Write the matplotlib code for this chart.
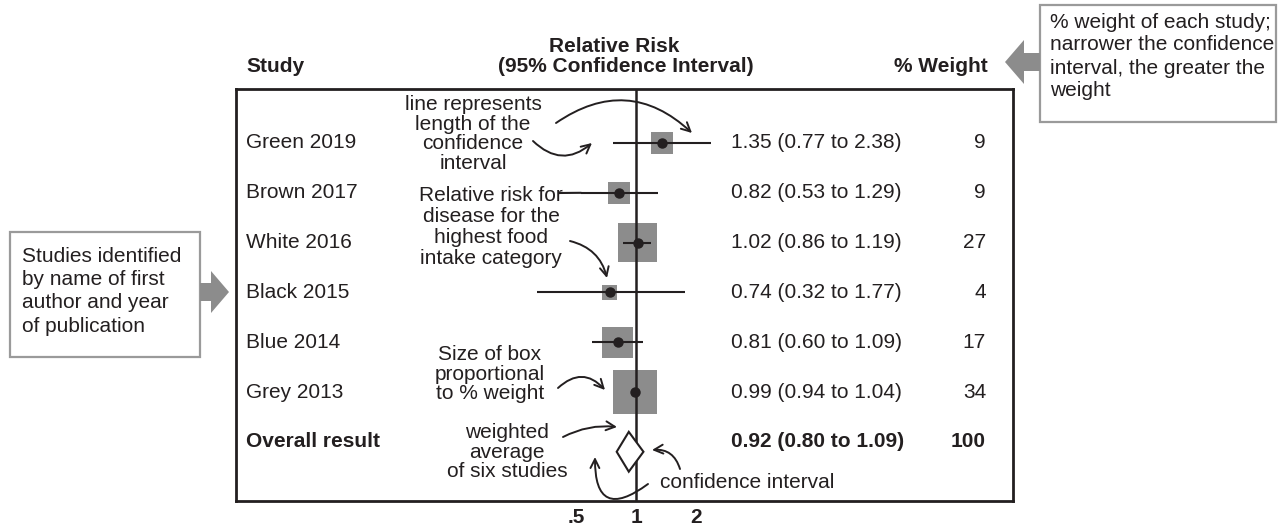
import numpy as np
import matplotlib.pyplot as plt
import matplotlib.transforms as mtransforms
from matplotlib.patches import Polygon, Rectangle
from matplotlib.ticker import NullLocator

plt.rcParams['font.family'] = ['Liberation Sans', 'DejaVu Sans']

# forest plot data
studies = ['Green 2019', 'Brown 2017', 'White 2016', 'Black 2015', 'Blue 2014', 'Grey 2013']
rr = [1.35, 0.82, 1.02, 0.74, 0.81, 0.99]
ci_low = [0.77, 0.53, 0.86, 0.32, 0.60, 0.94]
ci_high = [2.38, 1.29, 1.19, 1.77, 1.09, 1.04]
weights = [9, 9, 27, 4, 17, 34]
overall_label = 'Overall result'
overall_rr, overall_low, overall_high = 0.92, 0.80, 1.09
overall_weight = 100
tick_values = [0.5, 1, 2]
tick_labels = ['.5', '1', '2']

ink = '#231f20'
box_gray = '#8c8c8c'
frame_gray = '#9a9a9a'
FS = 15

W, H = 1278, 525
fig = plt.figure(figsize=(W / 100, H / 100), dpi=100)


def P(x, y):
    # image pixel -> figure fraction
    return (x / W, 1 - y / H)


ax_l, ax_r, ax_t, ax_b = 236, 1013, 89, 501
ax = fig.add_axes([ax_l / W, 1 - ax_b / H, (ax_r - ax_l) / W, (ax_b - ax_t) / H])

# log2 scale, 1 at x=636, ~60 px per doubling
ax.set_xscale('log', base=2)
ax.set_xlim(2 ** ((ax_l - 636) / 60), 2 ** ((ax_r - 636) / 60))
row_px = 49.8
ax.set_ylim((ax_b - 143) / row_px, (ax_t - 143) / row_px)

rows = np.arange(len(studies))
ax.axvline(1, color=ink, lw=1.8, zorder=2)
ax.scatter(rr, rows, s=np.array(weights) * 29, marker='s', color=box_gray, lw=0, zorder=1)
ax.hlines(rows, ci_low, ci_high, color=ink, lw=1.5, zorder=3)
ax.plot(rr, rows, 'o', ms=6.5, color=ink, zorder=4)

yo = len(studies) + 0.2
diamond = Polygon([(overall_low, yo), (overall_rr, yo - 0.4), (overall_high, yo), (overall_rr, yo + 0.4)],
                  closed=True, facecolor='white', edgecolor=ink, lw=1.5, zorder=5)
ax.add_patch(diamond)

for s in ax.spines.values():
    s.set_linewidth(2)
    s.set_color(ink)
ax.set_xticks(tick_values)
ax.set_xticklabels(tick_labels, fontsize=FS, fontweight='bold', color=ink)
ax.xaxis.set_minor_locator(NullLocator())
ax.tick_params(axis='x', length=0, pad=5)
ax.set_yticks([])

# text columns
trans = mtransforms.blended_transform_factory(fig.transFigure, ax.transData)
for i, name in enumerate(studies):
    ax.text(246 / W, i, name, transform=trans, ha='left', va='center', fontsize=FS, color=ink)
    ax.text(731 / W, i, f'{rr[i]:.2f} ({ci_low[i]:.2f} to {ci_high[i]:.2f})', transform=trans,
            ha='left', va='center', fontsize=FS, color=ink)
    ax.text(986 / W, i, str(weights[i]), transform=trans, ha='right', va='center', fontsize=FS, color=ink)
io = len(studies)
ax.text(246 / W, io, overall_label, transform=trans, ha='left', va='center', fontsize=FS,
        fontweight='bold', color=ink)
ax.text(731 / W, io, f'{overall_rr:.2f} ({overall_low:.2f} to {overall_high:.2f})', transform=trans,
        ha='left', va='center', fontsize=FS, fontweight='bold', color=ink)
ax.text(986 / W, io, str(overall_weight), transform=trans, ha='right', va='center', fontsize=FS,
        fontweight='bold', color=ink)

# headers
fig.text(*P(614, 47), 'Relative Risk', ha='center', va='center', fontsize=FS, fontweight='bold', color=ink)
fig.text(*P(626, 67), '(95% Confidence Interval)', ha='center', va='center', fontsize=FS,
         fontweight='bold', color=ink)
fig.text(*P(246, 67), 'Study', ha='left', va='center', fontsize=FS, fontweight='bold', color=ink)
fig.text(*P(988, 67), '% Weight', ha='right', va='center', fontsize=FS, fontweight='bold', color=ink)


# side boxes with block arrows
def frame_box(x0, y0, x1, y1):
    fig.add_artist(Rectangle(P(x0, y1), (x1 - x0) / W, (y1 - y0) / H, transform=fig.transFigure,
                             facecolor='white', edgecolor=frame_gray, lw=1.6))


def block_arrow(pts):
    fig.add_artist(Polygon([P(x, y) for x, y in pts], closed=True, transform=fig.transFigure,
                           facecolor=box_gray, edgecolor='none'))


frame_box(10, 232, 200, 357)
for k, line in enumerate(['Studies identified', 'by name of first', 'author and year', 'of publication']):
    fig.text(*P(22, 256 + k * 23.5), line, ha='left', va='center', fontsize=FS, color=ink)
block_arrow([(200, 283), (211, 283), (211, 271), (229, 292), (211, 313), (211, 301), (200, 301)])

frame_box(1040, 5, 1276, 122)
for k, line in enumerate(['% weight of each study;', 'narrower the confidence',
                          'interval, the greater the', 'weight']):
    fig.text(*P(1050, 22 + k * 23), line, ha='left', va='center', fontsize=FS, color=ink)
block_arrow([(1040, 53), (1024, 53), (1024, 40), (1005, 62), (1024, 84), (1024, 71), (1040, 71)])


# annotations
def note(x, y, txt, ha='center', ls=1.05):
    fig.text(*P(x, y), txt, ha=ha, va='center', fontsize=FS, color=ink, linespacing=ls)


def curve(a, b, rad, head=True):
    ax.annotate('', xy=P(*b), xycoords='figure fraction', xytext=P(*a), textcoords='figure fraction',
                arrowprops=dict(arrowstyle='->' if head else '-', color=ink, lw=1.4,
                                connectionstyle=f'arc3,rad={rad}', shrinkA=0, shrinkB=0,
                                mutation_scale=16))


note(473, 134, 'line represents\nlength of the\nconfidence\ninterval')
curve((556, 123), (692, 133), -0.4)
curve((533, 141), (592, 143), 0.45)

note(491, 227, 'Relative risk for\ndisease for the\nhighest food\nintake category', ls=1.15)
ax.annotate('', xy=(ci_low[1], 1), xycoords='data', xytext=P(559, 193), textcoords='figure fraction',
            arrowprops=dict(arrowstyle='-', color=ink, lw=1.5, shrinkA=0, shrinkB=0))
curve((570, 241), (607, 278), -0.3)

note(490, 374, 'Size of box\nproportional\nto % weight')
curve((558, 388), (605, 390), -0.5)

note(507, 452, 'weighted\naverage\nof six studies')
curve((563, 437), (617, 427), -0.15)
curve((648, 484), (595, 457), -1.0)
note(660, 483, 'confidence interval', ha='left')
curve((680, 469), (652, 450), 0.4)

fig.savefig('out.png', dpi=100)
